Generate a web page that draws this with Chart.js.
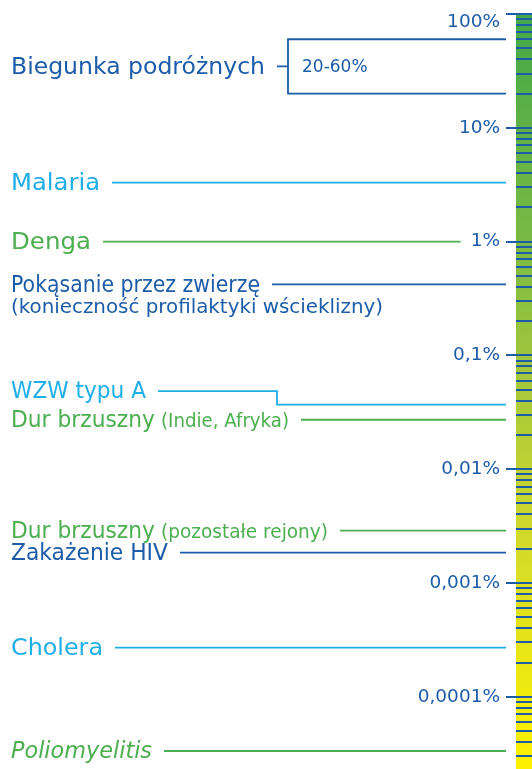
<!DOCTYPE html>
<html><head><meta charset="utf-8">
<script src="https://cdn.jsdelivr.net/npm/chart.js@4"></script>
<style>html,body{margin:0;padding:0;background:#fff}#wrap{width:532px;height:769px}</style>
</head><body><div id="wrap"><canvas id="c" width="532" height="769"></canvas></div>
<script>
// ---- data ----
const categories = ['Biegunka podróżnych', 'Malaria', 'Denga', 'Pokąsanie przez zwierzę', 'WZW typu A', 'Dur brzuszny', 'Dur brzuszny', 'Zakażenie HIV', 'Cholera', 'Poliomyelitis'];
const subLabels = ['', '', '', '(konieczność profilaktyki wścieklizny)', '', '(Indie, Afryka)', '(pozostałe rejony)', '', '', ''];
const riskLow = [20, 3.3, 1, 0.42, 0.037, 0.0272, 0.00288, 0.00185, 0.00027, 0.0000334];
const riskHigh = [60, 3.3, 1, 0.42, 0.037, 0.0272, 0.00288, 0.00185, 0.00027, 0.0000334];
const rangeLabels = ['20-60%', '', '', '', '', '', '', '', '', ''];
const tickValues = [100, 10, 1, 0.1, 0.01, 0.001, 0.0001];
const tickLabels = ['100%', '10%', '1%', '0,1%', '0,01%', '0,001%', '0,0001%'];
const axisMin = 0.0000232;
const axisMax = 100;

// ---- styles / layout ----
const DARK = '#1d5ca8', LIGHT = '#1eaee8', GREEN = '#4caf4f';
const itemColors = [DARK, LIGHT, GREEN, DARK, LIGHT, GREEN, GREEN, DARK, LIGHT, GREEN];
const itemItalic = [false, false, false, false, false, false, false, false, false, true];
const mainWidths = [254, 89, 80, 249, 135, 144, 144, 157, 92, 141];
const subWidths = [0, 0, 0, 372, 0, 128, 167, 0, 0, 0];
const FONT = '"DejaVu Sans", sans-serif';
const MAIN_SIZE = 23.5, SUB_SIZE = 19.5, TICK_SIZE = 18.5;

// all ticks: majors plus 2..9 multiples within each decade
const allTicks = [];
tickValues.forEach(m => {
  allTicks.push({value: m, major: true});
  for (let k = 2; k <= 9; k++) {
    const v = +(m / 10 * k).toPrecision(6);
    if (v >= axisMin && v < axisMax) allTicks.push({value: v, major: false});
  }
});
allTicks.sort((a, b) => a.value - b.value);

function fitText(ctx, text, x, y, target) {
  const w = ctx.measureText(text).width;
  const sx = target ? target / w : 1;
  ctx.save();
  ctx.translate(x, y);
  ctx.scale(sx, 1);
  ctx.fillText(text, 0, 0);
  ctx.restore();
  return w * sx;
}

const labelPlugin = {
  id: 'riskLabels',
  afterDraw(chart) {
    const ctx = chart.ctx;
    const ys = chart.scales.y;
    const lineEnd = chart.chartArea.left - 10;
    const x0 = 11, gap = 12;
    ctx.save();
    ctx.textBaseline = 'middle';
    ctx.textAlign = 'left';
    ctx.font = TICK_SIZE + 'px ' + FONT;
    const majorPix = tickValues.map((v, i) => ({y: ys.getPixelForValue(v), w: ctx.measureText(tickLabels[i]).width}));
    categories.forEach((name, i) => {
      const col = itemColors[i];
      const yLo = ys.getPixelForValue(riskLow[i]);
      const yHi = ys.getPixelForValue(riskHigh[i]);
      const yVal = (yLo + yHi) / 2;
      let yLab = yVal;
      if (i === 4) yLab = yVal - 13.5;
      ctx.fillStyle = col; ctx.strokeStyle = col; ctx.lineWidth = 1.8;
      ctx.font = (itemItalic[i] ? 'italic ' : '') + MAIN_SIZE + 'px ' + FONT;
      let w = fitText(ctx, name, x0, yLab + 1, mainWidths[i]);
      if (subLabels[i]) {
        ctx.font = SUB_SIZE + 'px ' + FONT;
        if (i === 3) {
          fitText(ctx, subLabels[i], x0, yLab + 23.5, subWidths[i]);
        } else {
          const sx = x0 + w + 6;
          w = w + 6 + fitText(ctx, subLabels[i], sx, yLab + 2, subWidths[i]);
        }
      }
      const start = x0 + w + gap;
      let end = lineEnd;
      majorPix.forEach(m => { if (Math.abs(m.y - yVal) < 10) end = chart.chartArea.left - 16 - m.w - 10; });
      ctx.beginPath();
      if (rangeLabels[i]) {
        const boxL = start + 11;
        ctx.moveTo(start, yVal); ctx.lineTo(boxL, yVal);
        ctx.moveTo(end, yHi); ctx.lineTo(boxL, yHi); ctx.lineTo(boxL, yLo); ctx.lineTo(end, yLo);
        ctx.stroke();
        ctx.font = '17px ' + FONT;
        ctx.fillText(rangeLabels[i], boxL + 14, yVal + 1);
      } else if (yLab !== yVal) {
        const elbow = 277;
        ctx.moveTo(start, yLab); ctx.lineTo(elbow, yLab); ctx.lineTo(elbow, yVal); ctx.lineTo(end, yVal);
        ctx.stroke();
      } else {
        ctx.moveTo(start, yVal); ctx.lineTo(end, yVal);
        ctx.stroke();
      }
    });
    ctx.restore();
  }
};

new Chart(document.getElementById('c'), {
  type: 'bar',
  data: {
    labels: ['ryzyko'],
    datasets: [{
      data: [[axisMin, axisMax]],
      barPercentage: 1,
      categoryPercentage: 1,
      borderWidth: 0,
      borderSkipped: false,
      backgroundColor: (c) => {
        const ch = c.chart; const a = ch.chartArea;
        if (!a) return '#8bc040';
        const g = ch.ctx.createLinearGradient(0, a.top, 0, a.bottom);
        g.addColorStop(0, '#43a849');
        g.addColorStop(0.3, '#7aba43');
        g.addColorStop(0.5, '#a9c93a');
        g.addColorStop(0.7, '#d3da2a');
        g.addColorStop(1, '#fff200');
        return g;
      }
    }]
  },
  options: {
    responsive: false,
    animation: false,
    layout: {padding: {top: 14, bottom: 0, left: 0, right: 0}},
    plugins: {legend: {display: false}, tooltip: {enabled: false}},
    scales: {
      x: {display: false},
      y: {
        type: 'logarithmic',
        position: 'left',
        min: axisMin,
        max: axisMax,
        afterFit: (s) => { s.width = 516; s.paddingTop = 0; s.paddingBottom = 0; },
        afterBuildTicks: (s) => { s.ticks = allTicks.map(t => ({value: t.value, major: t.major})); },
        border: {display: false},
        grid: {
          z: 1,
          color: DARK,
          lineWidth: 2,
          drawTicks: true,
          tickLength: 10,
          tickWidth: 2,
          tickColor: (c) => (c.tick && c.tick.major) ? DARK : 'rgba(0,0,0,0)'
        },
        ticks: {
          autoSkip: false,
          padding: 6,
          color: DARK,
          font: {family: FONT, size: TICK_SIZE, lineHeight: 0.85},
          callback: (v) => {
            const i = tickValues.findIndex(t => Math.abs(t - v) / t < 1e-6);
            if (i < 0) return '';
            return i === 0 ? ['', tickLabels[i]] : tickLabels[i];
          }
        }
      }
    }
  },
  plugins: [labelPlugin]
});
</script>
</body></html>
